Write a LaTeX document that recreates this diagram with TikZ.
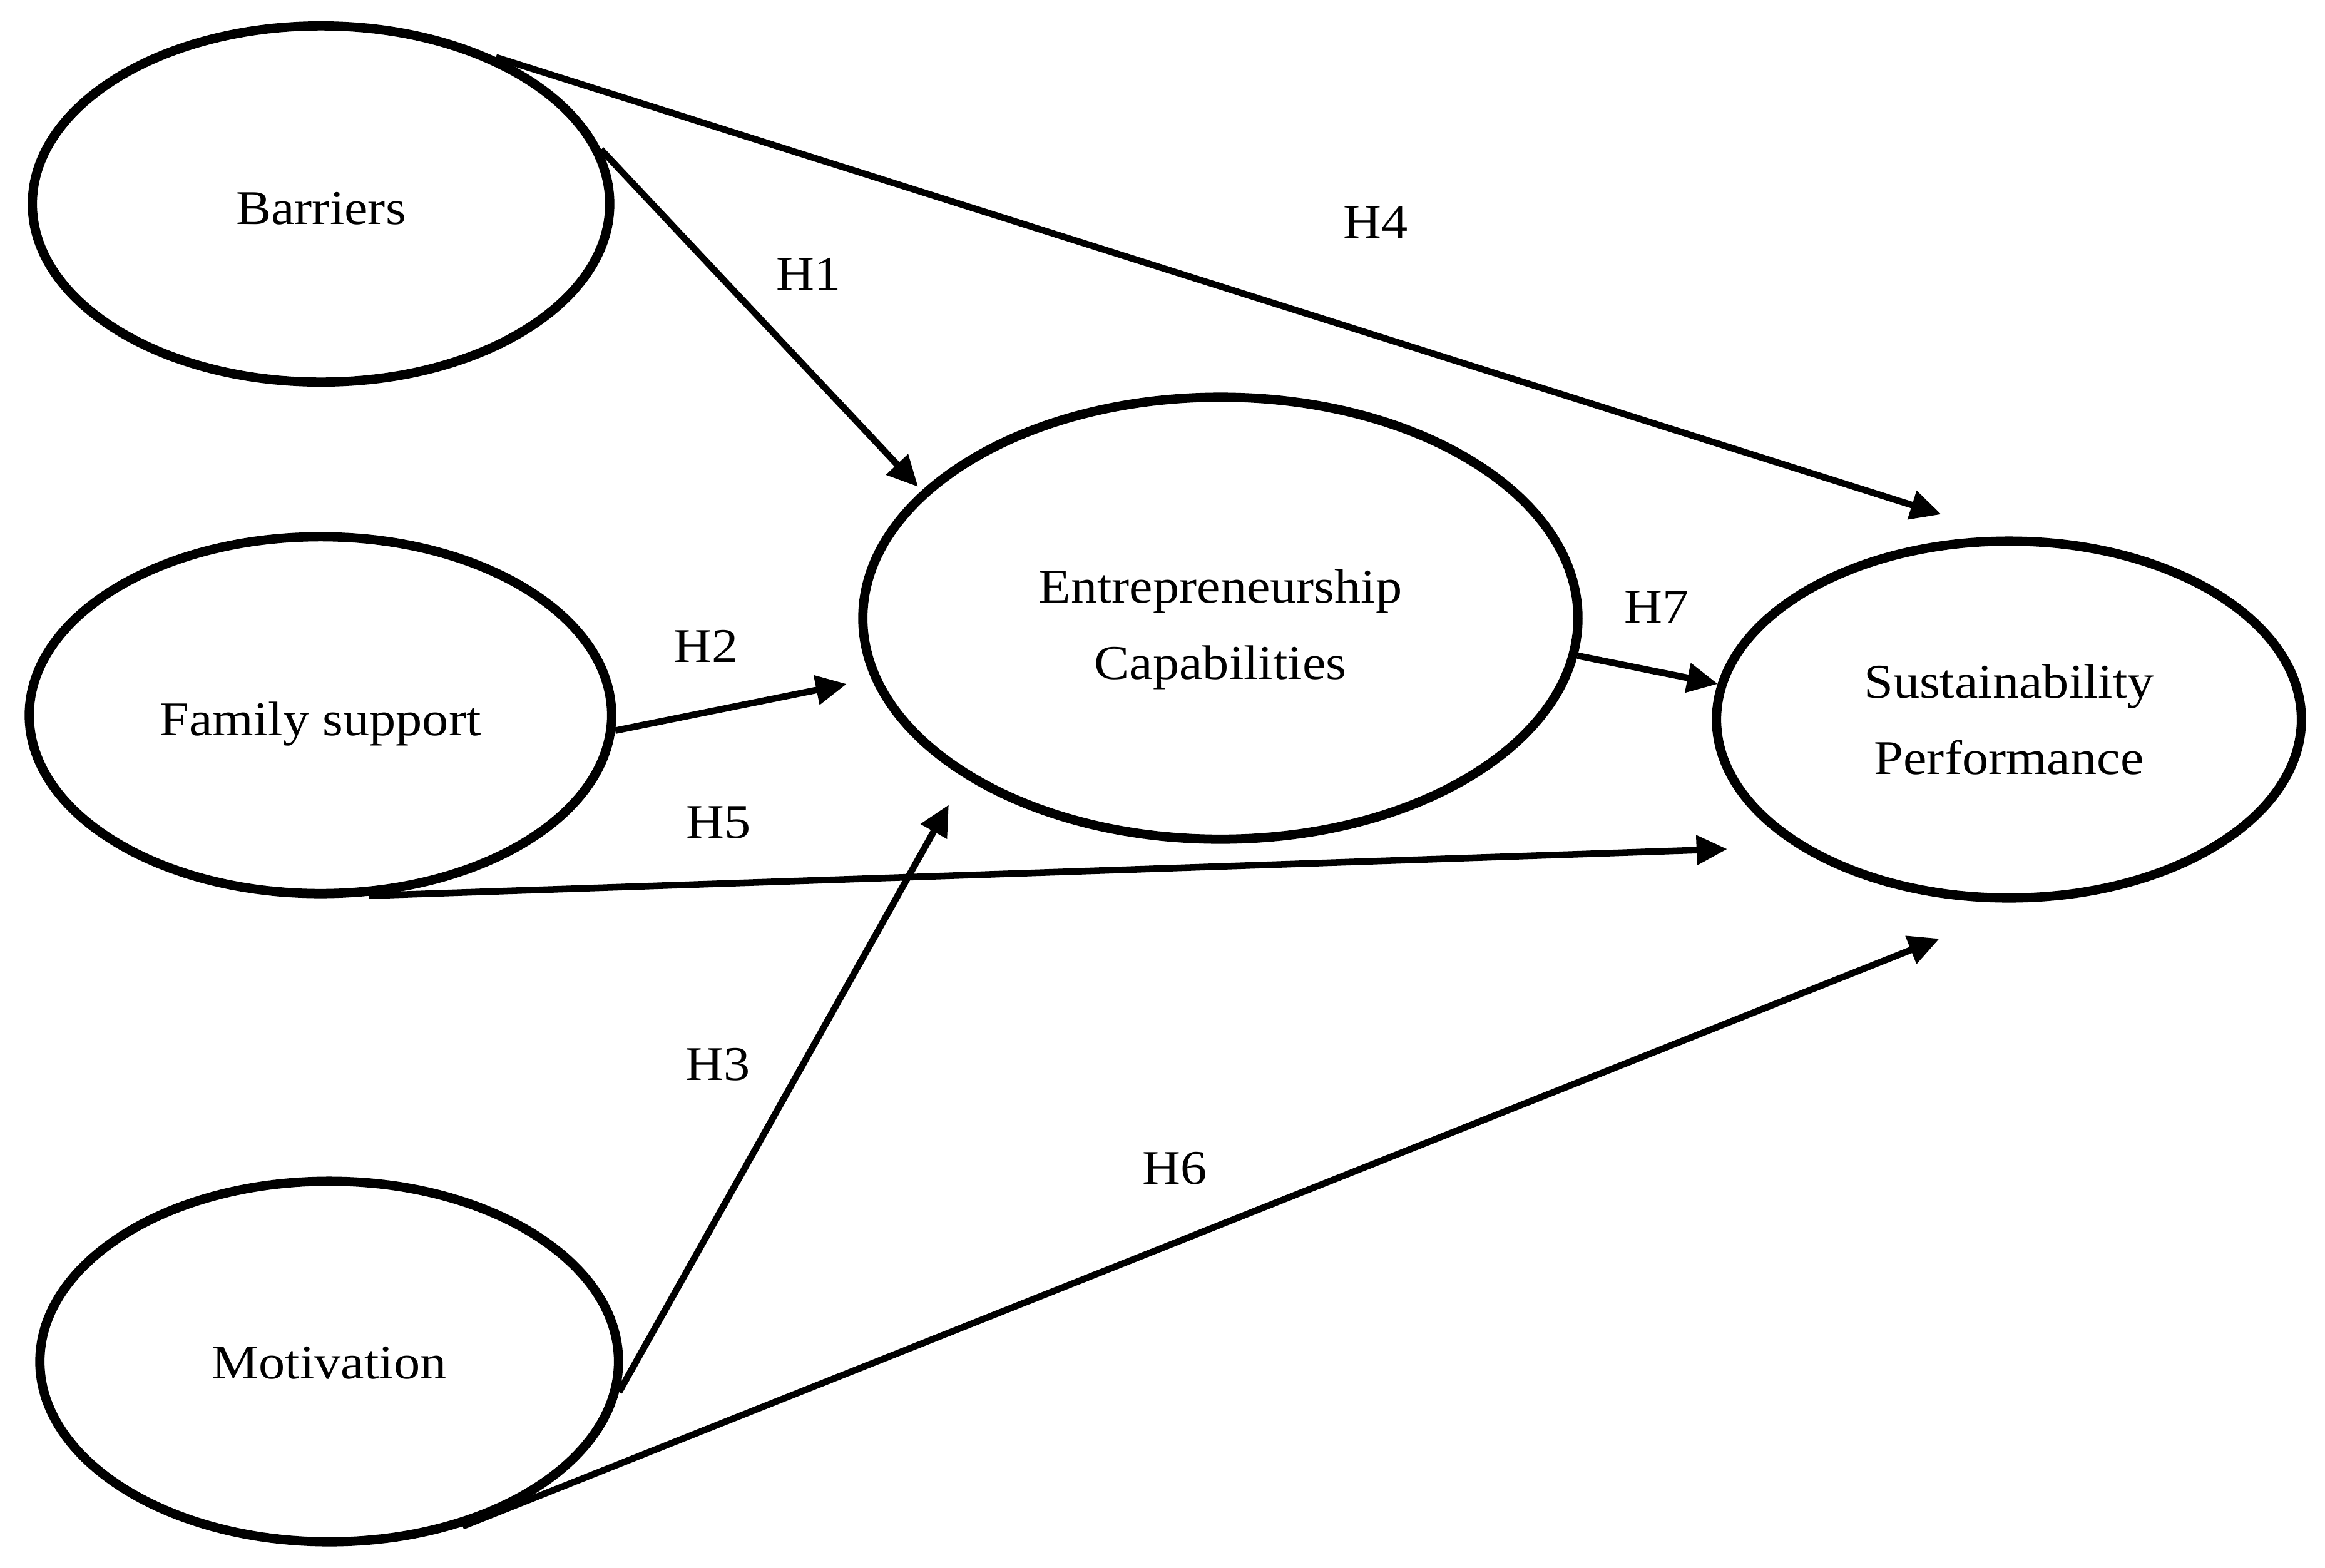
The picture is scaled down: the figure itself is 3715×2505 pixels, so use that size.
\documentclass[tikz,border=0pt]{standalone}
\usepackage{fontspec}
\setmainfont[FakeStretch=1.09]{Liberation Serif}
\usetikzlibrary{arrows.meta,shapes.geometric}
\newcommand\lowr[2]{\raisebox{-#1}[\height][\depth]{#2}}
\begin{document}
\begin{tikzpicture}[x=0.01cm,y=-0.01cm,
  construct/.style={draw, ellipse, line width=4.2pt, inner sep=0pt, align=center,
    font=\fontsize{22}{34.7}\selectfont},
  hyp/.style={line width=3pt, -{Triangle[length=14pt,width=13pt]}},
  hlabel/.style={font=\fontsize{22}{26}\selectfont, inner sep=0pt}]
\useasboundingbox (0,0) rectangle (3715,2505);
% constructs
\node[construct, minimum width=9.22cm, minimum height=5.69cm] (bar) at (513,326) {\lowr{2pt}{Barriers}};
\node[construct, minimum width=9.30cm, minimum height=5.70cm] (fam) at (512,1143) {\lowr{4pt}{Family support}};
\node[construct, minimum width=9.24cm, minimum height=5.76cm] (mot) at (526,2176) {\lowr{0.5pt}{Motivation}};
\node[construct, minimum width=11.42cm, minimum height=7.06cm] (ec) at (1950,988)
  {\lowr{3.4pt}{\begin{tabular}{@{}c@{}}Entrepreneurship\\Capabilities\end{tabular}}};
\node[construct, minimum width=9.34cm, minimum height=5.70cm] (sp) at (3210,1150) {Sustainability\\Performance};
% arrow tips
\coordinate (t1) at (1467,778);
\coordinate (t4) at (3102,822);
\coordinate (t2) at (1353,1093);
\coordinate (t5) at (2760,1357);
\coordinate (t3) at (1516,1286);
\coordinate (t6) at (3099,1500);
\coordinate (t7) at (2745,1093);
% hypotheses
\draw[hyp] (bar.11.3) -- (t1);
\draw[hyp] (bar.40.7) -- (t4);
\draw[hyp] (fam.-3) -- (t2);
\draw[hyp] (fam.-75.1) -- (t5);
\draw[hyp] (mot.-6.2) -- (t3);
\draw[hyp] (mot.-51) -- (t6);
\draw[hyp] (ec.-6.5) -- (t7);
% labels
\node[hlabel] (h1) at (1292,438) {H1};
\node[hlabel] (h4) at (2198,355) {H4};
\node[hlabel] (h2) at (1128,1033) {H2};
\node[hlabel] (h5) at (1148,1315) {H5};
\node[hlabel] (h3) at (1147,1701) {H3};
\node[hlabel] (h6) at (1877,1867) {H6};
\node[hlabel] (h7) at (2647,970) {H7};
\end{tikzpicture}
\end{document}
